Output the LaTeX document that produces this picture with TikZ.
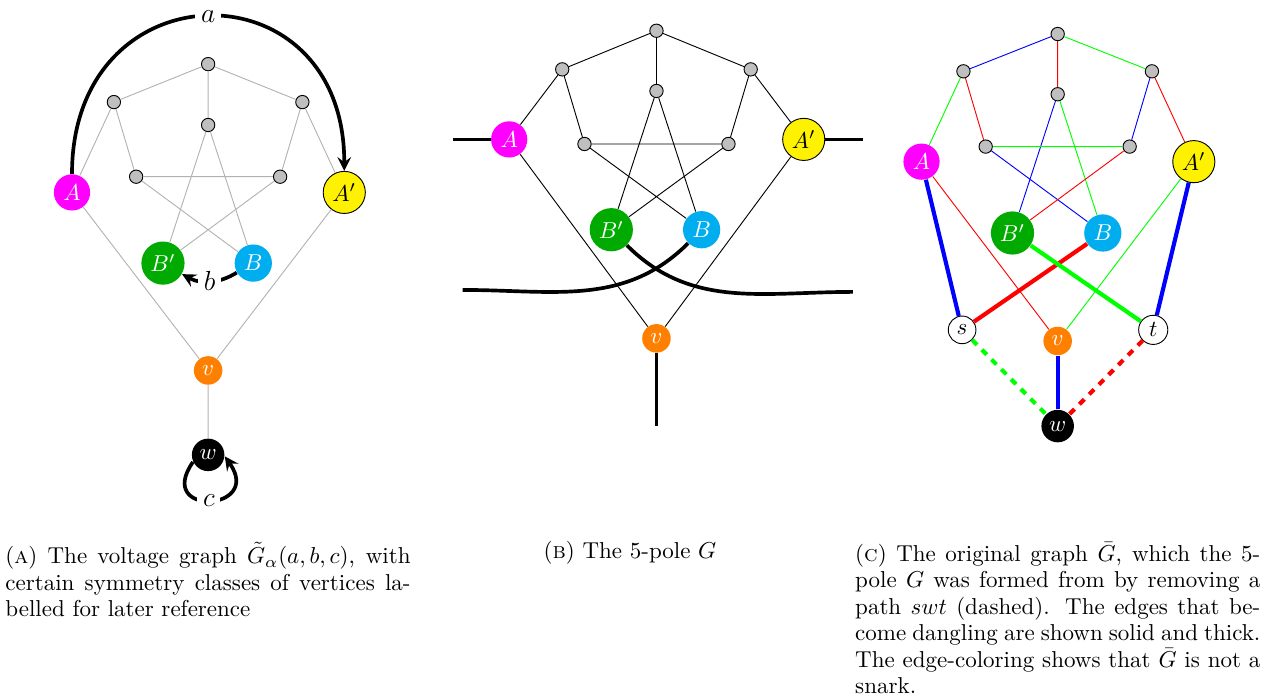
\documentclass[tikz,border=0pt]{standalone}
\usepackage{amsmath}
\usepackage{amssymb}
\usepackage{tikz}
\usetikzlibrary{arrows}
\definecolor{Fuchsia}{RGB}{255, 0, 255}
\definecolor{Sky}{RGB}{0, 174, 239}
\definecolor{Leaf}{RGB}{0, 170, 0}
\definecolor{Lemon}{RGB}{255, 242, 0}
\definecolor{Tangerine}{RGB}{255, 128, 0}
\definecolor{Rojo}{RGB}{255, 0, 0}
\definecolor{Verde}{RGB}{0, 255, 0}
\definecolor{Azul}{RGB}{0, 0, 255}

\begin{document}
\begin{tikzpicture}[
        vtx/.style={circle, draw=black, fill=gray!50, thin, inner sep=0pt, minimum size=5.8pt},
        pole/.style={circle, inner sep=2pt, text=white},
        light/.style={draw=gray!60, thin},
        plain/.style={draw=black, thin},
        voltage/.style={line width=1.6pt, ->, >=stealth},
        volt label/.style={fill=white, inner sep=2.5pt, font=\large},
        dangle/.style={line width=1.6pt},
        cut/.style={line width=1.8pt},
        capt/.style={anchor=north west, inner sep=0pt, text width=6.19cm, align=justify, font=\fontsize{10}{11.5}\selectfont}
    ]
        \useasboundingbox (0, 0) rectangle (19.45, -10.635);

        % ================= (A) VOLTAGE GRAPH =================
        \begin{scope}[xshift=3.18cm, yshift=-0.98cm]
            \node[vtx] (top_a) at (0, 0) {};
            \node[vtx] (ul_a) at (-1.44, -0.58) {};
            \node[vtx] (ur_a) at (1.44, -0.58) {};
            \node[vtx] (in_a) at (0, -0.93) {};
            \node[vtx] (il_a) at (-1.10, -1.72) {};
            \node[vtx] (ir_a) at (1.10, -1.72) {};
            \node[pole, fill=Fuchsia] (A_a) at (-2.08, -1.96) {$A$};
            \node[pole, fill=Lemon, draw=black, text=black] (Ap_a) at (2.08, -1.96) {$A'$};
            \node[pole, fill=Leaf] (Bp_a) at (-0.69, -3.04) {$B'$};
            \node[pole, fill=Sky] (B_a) at (0.69, -3.04) {$B$};
            \node[pole, fill=Tangerine] (v_a) at (0, -4.68) {$v$};
            \node[pole, fill=black] (w_a) at (0, -5.97) {$w$};

            \draw[light] (top_a) -- (ul_a) (top_a) -- (ur_a) (top_a) -- (in_a);
            \draw[light] (ul_a) -- (A_a) (ul_a) -- (il_a) (ur_a) -- (Ap_a) (ur_a) -- (ir_a);
            \draw[light] (il_a) -- (ir_a) (il_a) -- (B_a) (ir_a) -- (Bp_a);
            \draw[light] (in_a) -- (Bp_a) (in_a) -- (B_a);
            \draw[light] (A_a) -- (v_a) (Ap_a) -- (v_a) (v_a) -- (w_a);

            \draw[voltage] (A_a) to[out=90, in=90, looseness=1.95] node[volt label] {$a$} (Ap_a);
            \draw[voltage] (B_a) to[bend left=30] node[volt label] {$b$} (Bp_a);
            \draw[voltage] (w_a.205) to[out=235, in=-55, distance=1.03cm] node[volt label] {$c$} (w_a.-5);
        \end{scope}

        % ================= (B) THE 5-POLE =================
        \begin{scope}[xshift=10.03cm, yshift=-0.47cm]
            \node[vtx] (top_b) at (0, 0) {};
            \node[vtx] (ul_b) at (-1.44, -0.59) {};
            \node[vtx] (ur_b) at (1.44, -0.59) {};
            \node[vtx] (in_b) at (0, -0.92) {};
            \node[vtx] (il_b) at (-1.10, -1.73) {};
            \node[vtx] (ir_b) at (1.10, -1.73) {};
            \node[pole, fill=Fuchsia] (A_b) at (-2.25, -1.66) {$A$};
            \node[pole, fill=Lemon, draw=black, text=black] (Ap_b) at (2.25, -1.66) {$A'$};
            \node[pole, fill=Leaf] (Bp_b) at (-0.69, -3.04) {$B'$};
            \node[pole, fill=Sky] (B_b) at (0.69, -3.04) {$B$};
            \node[pole, fill=Tangerine] (v_b) at (0, -4.70) {$v$};

            \coordinate (aL) at (-3.11, -1.66);
            \coordinate (aR) at (3.16, -1.66);
            \coordinate (bL) at (-2.96, -3.96);
            \coordinate (bR) at (3.00, -3.99);
            \coordinate (vD) at (0, -6.04);

            \draw[plain] (top_b) -- (ul_b) (top_b) -- (ur_b) (top_b) -- (in_b);
            \draw[plain] (ul_b) -- (A_b) (ul_b) -- (il_b) (ur_b) -- (Ap_b) (ur_b) -- (ir_b);
            \draw[plain] (il_b) -- (ir_b) (il_b) -- (B_b) (ir_b) -- (Bp_b);
            \draw[plain] (in_b) -- (Bp_b) (in_b) -- (B_b);
            \draw[plain] (A_b) -- (v_b) (Ap_b) -- (v_b);

            \draw[dangle] (aL) -- (A_b);
            \draw[dangle] (Ap_b) -- (aR);
            \draw[dangle] (v_b) -- (vD);
            \draw[dangle] (Bp_b) to[out=-45, in=180] (bR);
            \draw[dangle] (B_b) to[out=-135, in=0] (bL);
        \end{scope}

        % ================= (C) THE ORIGINAL GRAPH =================
        \begin{scope}[xshift=16.16cm, yshift=-0.52cm]
            \node[vtx] (top_c) at (0, 0) {};
            \node[vtx] (ul_c) at (-1.44, -0.57) {};
            \node[vtx] (ur_c) at (1.44, -0.57) {};
            \node[vtx] (in_c) at (0, -0.92) {};
            \node[vtx] (il_c) at (-1.10, -1.72) {};
            \node[vtx] (ir_c) at (1.10, -1.72) {};
            \node[pole, fill=Fuchsia] (A_c) at (-2.08, -1.95) {$A$};
            \node[pole, fill=Lemon, draw=black, text=black] (Ap_c) at (2.08, -1.95) {$A'$};
            \node[pole, fill=Leaf] (Bp_c) at (-0.69, -3.04) {$B'$};
            \node[pole, fill=Sky] (B_c) at (0.69, -3.04) {$B$};
            \node[pole, fill=white, draw=black, text=black] (s_c) at (-1.46, -4.52) {$s$};
            \node[pole, fill=white, draw=black, text=black] (t_c) at (1.46, -4.52) {$t$};
            \node[pole, fill=Tangerine] (v_c) at (0, -4.69) {$v$};
            \node[pole, fill=black] (w_c) at (0, -5.99) {$w$};

            \draw[Azul, thin] (top_c) -- (ul_c) (ur_c) -- (ir_c) (il_c) -- (B_c) (in_c) -- (Bp_c);
            \draw[Verde, thin] (top_c) -- (ur_c) (ul_c) -- (A_c) (il_c) -- (ir_c) (in_c) -- (B_c) (Ap_c) -- (v_c);
            \draw[Rojo, thin] (top_c) -- (in_c) (ul_c) -- (il_c) (ur_c) -- (Ap_c) (ir_c) -- (Bp_c) (A_c) -- (v_c);

            \draw[cut, Azul] (A_c) -- (s_c);
            \draw[cut, Azul] (Ap_c) -- (t_c);
            \draw[cut, Azul] (v_c) -- (w_c);
            \draw[cut, Rojo] (B_c) -- (s_c);
            \draw[cut, Verde] (Bp_c) -- (t_c);
            \draw[cut, Verde, dashed] (s_c) -- (w_c);
            \draw[cut, Rojo, dashed] (t_c) -- (w_c);
        \end{scope}

        % ================= CAPTIONS =================
        \node[capt] (cap_a) at (0.076, -8.28) {(\textsc{a}) The voltage graph $\tilde{G}_\alpha(a,b,c)$, with\linebreak certain symmetry classes of vertices la-\linebreak belled for later reference};
        \node[anchor=base west, inner sep=0pt, font=\fontsize{10}{11.5}\selectfont] (cap_b) at (8.30, -8.54) {(\textsc{b}) The 5-pole $G$};
        \node[capt] (cap_c) at (13.06, -8.28) {(\textsc{c}) The original graph $\bar{G}$, which the 5-\linebreak pole $G$ was formed from by removing a\linebreak path $swt$ (dashed). The edges that be-\linebreak come dangling are shown solid and thick.\linebreak The edge-coloring shows that $\bar{G}$ is not a\linebreak snark.};
    \end{tikzpicture}
\end{document}
